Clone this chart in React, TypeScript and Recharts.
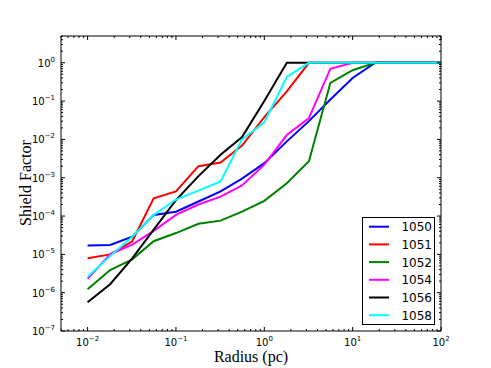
import React from 'react';
import { LineChart, Line, XAxis, YAxis, Legend, Label } from 'recharts';

const radius = [0.01, 0.018, 0.032, 0.056, 0.1, 0.18, 0.32, 0.56, 1, 1.8, 3.2, 5.6, 10, 18, 32, 56, 100];

const s1050 = [1.7e-5, 1.75e-5, 2.9e-5, 1.07e-4, 1.3e-4, 2.4e-4, 4.4e-4, 9.5e-4, 2.4e-3, 8.9e-3, 3.0e-2, 0.11, 0.4, 1, 1, 1, 1];
const s1051 = [7.9e-6, 1.0e-5, 2.2e-5, 2.9e-4, 4.4e-4, 2.0e-3, 2.5e-3, 6.9e-3, 3.8e-2, 0.18, 1, 1, 1, 1, 1, 1, 1];
const s1052 = [1.23e-6, 3.9e-6, 7.4e-6, 2.2e-5, 3.6e-5, 6.3e-5, 7.6e-5, 1.3e-4, 2.5e-4, 7.2e-4, 2.7e-3, 0.3, 0.64, 1, 1, 1, 1];
const s1054 = [2.3e-6, 1.0e-5, 1.8e-5, 4.1e-5, 1.07e-4, 2.0e-4, 3.2e-4, 6.3e-4, 2.2e-3, 1.3e-2, 3.6e-2, 0.7, 1, 1, 1, 1, 1];
const s1056 = [5.6e-7, 1.66e-6, 7.9e-6, 4.4e-5, 2.6e-4, 1.1e-3, 4.0e-3, 1.15e-2, 0.1, 1, 1, 1, 1, 1, 1, 1, 1];
const s1058 = [2.6e-6, 9.0e-6, 2.9e-5, 1.07e-4, 2.7e-4, 4.6e-4, 8.0e-4, 1.0e-2, 2.8e-2, 0.43, 1, 1, 1, 1, 1, 1, 1];

const seriesNames = ['1050', '1051', '1052', '1054', '1056', '1058'];
const seriesValues = [s1050, s1051, s1052, s1054, s1056, s1058];
const seriesColors = ['#0000ff', '#ff0000', '#008000', '#ff00ff', '#000000', '#00ffff'];

const xMajor = [0.01, 0.1, 1, 10, 100];
const yMajor = [1e-7, 1e-6, 1e-5, 1e-4, 1e-3, 1e-2, 1e-1, 1];
const xDomain = [0.005, 100];
const yDomain = [1e-7, 5];

const multipliers = [2, 3, 4, 5, 6, 7, 8, 9];
const minorOf = (decades: number[], lo: number, hi: number) => {
  const out: number[] = [];
  decades.forEach((d) => multipliers.forEach((m) => {
    const v = m * d;
    if (v >= lo * 0.9999 && v <= hi * 1.0001) out.push(v);
  }));
  return out;
};
const xTicks = [...xMajor, ...minorOf([0.001, 0.01, 0.1, 1, 10], xDomain[0], xDomain[1])].sort((a, b) => a - b);
const yTicks = [...yMajor, ...minorOf([1e-7, 1e-6, 1e-5, 1e-4, 1e-3, 1e-2, 1e-1, 1], yDomain[0], yDomain[1])].sort((a, b) => a - b);

const data = radius.map((r, i) => {
  const row: Record<string, number> = { r };
  seriesNames.forEach((n, k) => { row[n] = seriesValues[k][i]; });
  return row;
});

const isMajor = (v: number) => Math.abs(Math.log10(v) - Math.round(Math.log10(v))) < 1e-6;
const expOf = (v: number) => {
  const e = Math.round(Math.log10(v));
  return e < 0 ? '\u2212' + Math.abs(e) : String(e);
};

const TICK_FONT = 'DejaVu Sans, sans-serif';
const MAJ = 4;
const MIN = 2;

const BottomTick = (props: any) => {
  const { x, y, payload } = props;
  const v = payload.value;
  const major = isMajor(v);
  return (
    <g>
      <line x1={x} x2={x} y1={y} y2={y - (major ? MAJ : MIN)} stroke="#000" strokeWidth={1} />
      {major && (
        <text x={x} y={y + 15} textAnchor="middle" fontSize={10} fontFamily={TICK_FONT} fill="#000">
          10<tspan dy={-5} fontSize={7}>{expOf(v)}</tspan>
        </text>
      )}
    </g>
  );
};

const TopTick = (props: any) => {
  const { x, y, payload } = props;
  const major = isMajor(payload.value);
  return <line x1={x} x2={x} y1={y} y2={y + (major ? MAJ : MIN)} stroke="#000" strokeWidth={1} />;
};

const LeftTick = (props: any) => {
  const { x, y, payload } = props;
  const v = payload.value;
  const major = isMajor(v);
  return (
    <g>
      <line x1={x} x2={x + (major ? MAJ : MIN)} y1={y} y2={y} stroke="#000" strokeWidth={1} />
      {major && (
        <text x={x - 6} y={y + 4} textAnchor="end" fontSize={10} fontFamily={TICK_FONT} fill="#000">
          10<tspan dy={-5} fontSize={7}>{expOf(v)}</tspan>
        </text>
      )}
    </g>
  );
};

const RightTick = (props: any) => {
  const { x, y, payload } = props;
  const major = isMajor(payload.value);
  return <line x1={x} x2={x - (major ? MAJ : MIN)} y1={y} y2={y} stroke="#000" strokeWidth={1} />;
};

const LegendBox = () => {
  const w = 73;
  const h = 108;
  const rows = [9.7, 27.4, 45.1, 62.8, 80.5, 98.2];
  return (
    <svg width={w} height={h} style={{ display: 'block' }}>
      <rect x={0.5} y={0.5} width={w - 1} height={h - 1} fill="#fff" stroke="#000" strokeWidth={1} />
      {seriesNames.map((n, i) => (
        <g key={n}>
          <line x1={7} x2={27} y1={rows[i]} y2={rows[i]} stroke={seriesColors[i]} strokeWidth={2} />
          <text x={70} y={rows[i] + 4.5} textAnchor="end" fontSize={12} fontFamily={TICK_FONT} fill="#000">{n}</text>
        </g>
      ))}
    </svg>
  );
};

export default function App() {
  return (
    <div style={{ position: 'absolute', left: 0, top: 0, width: 491, height: 368, background: '#fff' }}>
      <LineChart width={491} height={368} data={data} margin={{ top: 35, right: 49, bottom: 0, left: 21 }}>
        <XAxis
          xAxisId="bottom"
          dataKey="r"
          type="number"
          scale="log"
          domain={xDomain}
          allowDataOverflow
          ticks={xTicks}
          interval={0}
          height={37}
          tickSize={0}
          tickMargin={0}
          tickLine={false}
          axisLine={{ stroke: '#000', strokeWidth: 1 }}
          tick={<BottomTick />}
        >
          <Label
            content={() => (
              <text x={251} y={362} textAnchor="middle" fontSize={16} fontFamily="Liberation Serif, serif" fill="#000">
                Radius (pc)
              </text>
            )}
          />
        </XAxis>
        <XAxis
          xAxisId="top"
          orientation="top"
          dataKey="r"
          type="number"
          scale="log"
          domain={xDomain}
          allowDataOverflow
          ticks={xTicks}
          interval={0}
          height={1}
          tickSize={0}
          tickMargin={0}
          tickLine={false}
          axisLine={{ stroke: '#000', strokeWidth: 1 }}
          tick={<TopTick />}
        />
        <YAxis
          yAxisId="left"
          type="number"
          scale="log"
          domain={yDomain}
          allowDataOverflow
          ticks={yTicks}
          interval={0}
          width={40}
          tickSize={0}
          tickMargin={0}
          tickLine={false}
          axisLine={{ stroke: '#000', strokeWidth: 1 }}
          tick={<LeftTick />}
        >
          <Label
            content={() => (
              <text
                x={31}
                y={183}
                transform="rotate(-90 31 183)"
                textAnchor="middle"
                fontSize={16}
                fontFamily="Liberation Serif, serif"
                fill="#000"
              >
                Shield Factor
              </text>
            )}
          />
        </YAxis>
        <YAxis
          yAxisId="right"
          orientation="right"
          type="number"
          scale="log"
          domain={yDomain}
          allowDataOverflow
          ticks={yTicks}
          interval={0}
          width={1}
          tickSize={0}
          tickMargin={0}
          tickLine={false}
          axisLine={{ stroke: '#000', strokeWidth: 1 }}
          tick={<RightTick />}
        />
        {seriesNames.map((n, i) => (
          <Line
            key={n}
            xAxisId="bottom"
            yAxisId="left"
            dataKey={n}
            name={n}
            type="linear"
            stroke={seriesColors[i]}
            strokeWidth={2}
            dot={false}
            activeDot={false}
            isAnimationActive={false}
          />
        ))}
        <Legend
          layout="vertical"
          align="center"
          verticalAlign="middle"
          wrapperStyle={{ position: 'absolute', left: 362, top: 217, width: 73, height: 108 }}
          content={() => <LegendBox />}
        />
      </LineChart>
    </div>
  );
}
